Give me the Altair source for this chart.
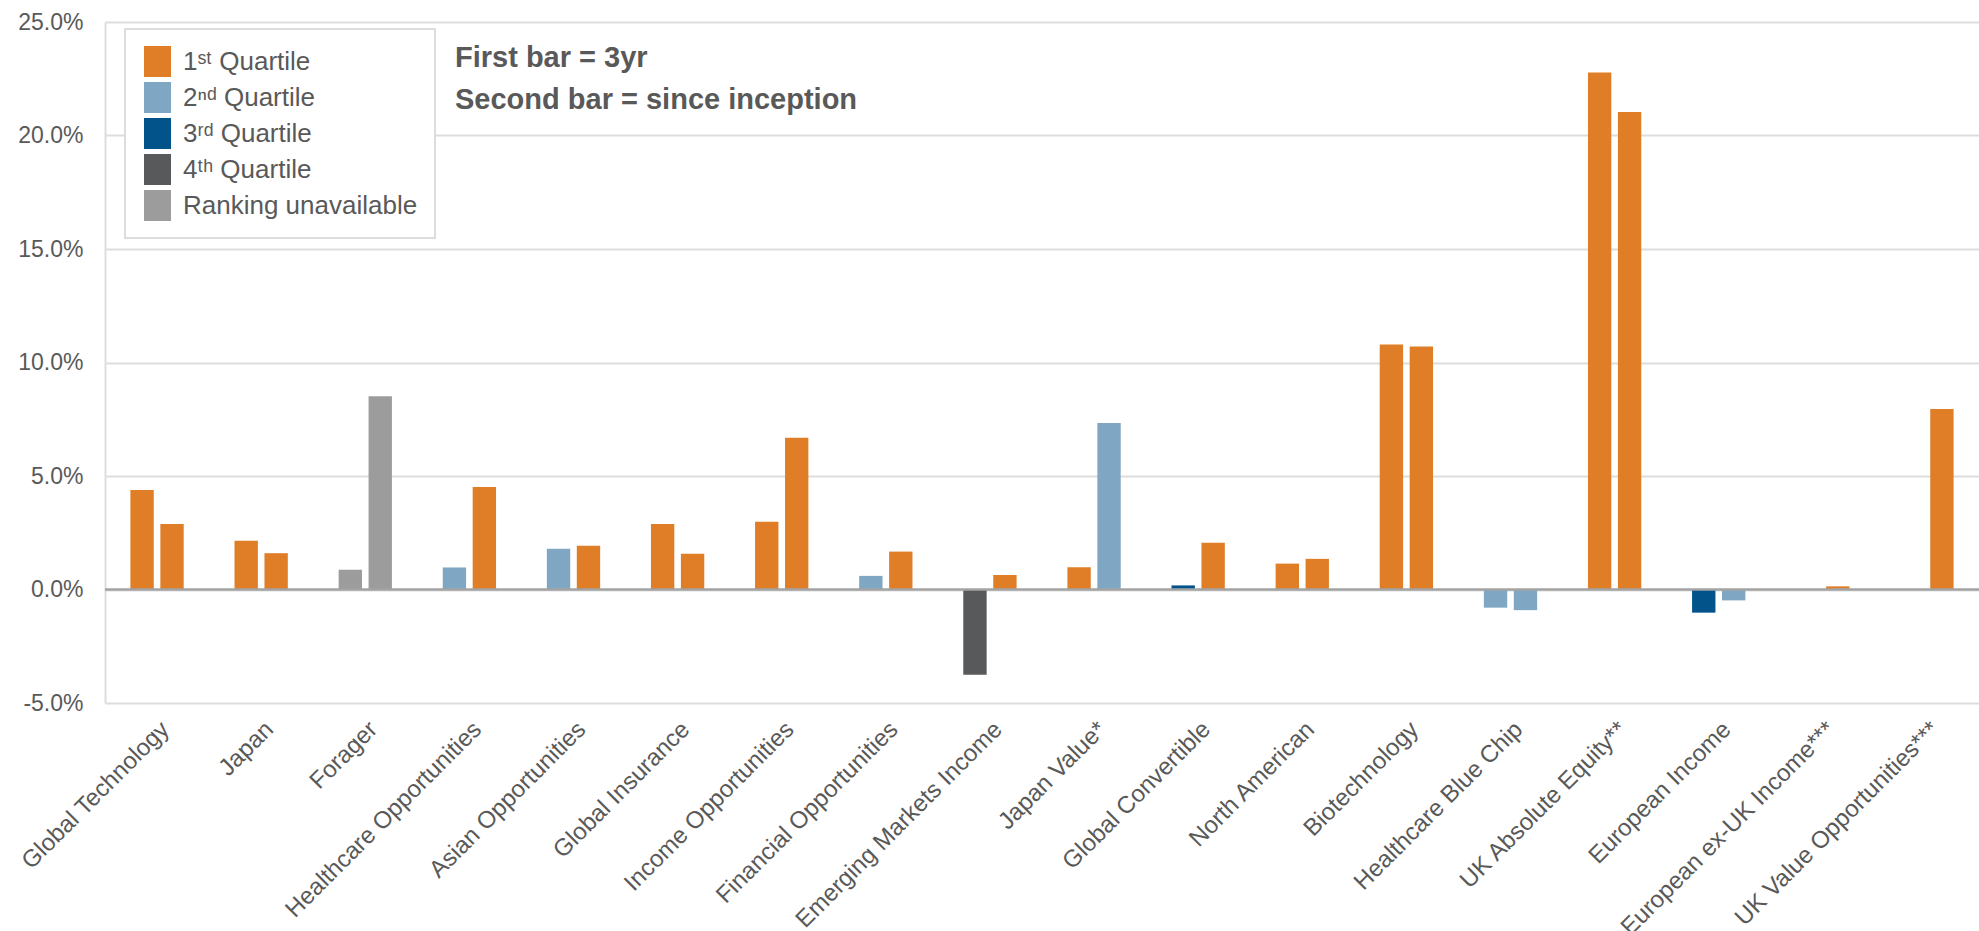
import altair as alt
import pandas as pd

funds = [
    "Global Technology", "Japan", "Forager", "Healthcare Opportunities",
    "Asian Opportunities", "Global Insurance", "Income Opportunities",
    "Financial Opportunities", "Emerging Markets Income", "Japan Value*",
    "Global Convertible", "North American", "Biotechnology",
    "Healthcare Blue Chip", "UK Absolute Equity**", "European Income",
    "European ex-UK Income***", "UK Value Opportunities***",
]
three_yr = [4.38, 2.15, 0.87, 0.97, 1.80, 2.89, 2.99, 0.60, -3.76, 0.98,
            0.18, 1.14, 10.79, -0.80, 22.78, -1.02, None, None]
since_inception = [2.89, 1.60, 8.51, 4.51, 1.93, 1.58, 6.68, 1.67, 0.64, 7.33,
                   2.06, 1.35, 10.70, -0.91, 21.04, -0.48, 0.14, 7.95]

Q1 = "1ˢᵗ Quartile"
Q2 = "2ⁿᵈ Quartile"
Q3 = "3ʳᵈ Quartile"
Q4 = "4ᵗʰ Quartile"
NA = "Ranking unavailable"
quartile_3yr = [Q1, Q1, NA, Q2, Q2, Q1, Q1, Q2, Q4, Q1, Q3, Q1, Q1, Q2, Q1, Q3, None, None]
quartile_si = [Q1, Q1, NA, Q1, Q1, Q1, Q1, Q1, Q1, Q2, Q1, Q1, Q1, Q2, Q1, Q2, Q1, Q1]

legend_order = [Q1, Q2, Q3, Q4, NA]
legend_colors = ["#E07E27", "#7FA7C3", "#01538A", "#58595B", "#9C9C9D"]
periods = ["3yr", "Since inception"]
y_ticks = [-5, 0, 5, 10, 15, 20, 25]
note_lines = ["First bar = 3yr", "Second bar = since inception"]

rows = []
for f, v, q in zip(funds, three_yr, quartile_3yr):
    if v is not None:
        rows.append({"fund": f, "period": periods[0], "value": v, "quartile": q})
for f, v, q in zip(funds, since_inception, quartile_si):
    if v is not None:
        rows.append({"fund": f, "period": periods[1], "value": v, "quartile": q})
df = pd.DataFrame(rows)

FONT = "Liberation Sans"
TXT = "#595959"

bars = alt.Chart(df).mark_bar().encode(
    x=alt.X("fund:N", sort=funds,
            scale=alt.Scale(paddingInner=0.488, paddingOuter=0.244),
            axis=alt.Axis(title=None, labelAngle=-45, labelFontSize=24,
                          labelColor=TXT, labelFont=FONT, labelPadding=14,
                          labelLimit=0, labelOverlap=False,
                          domain=False, ticks=False, grid=False,
                          labelAlign="right", labelBaseline="top")),
    xOffset=alt.XOffset("period:N", sort=periods,
                        scale=alt.Scale(paddingInner=0.22, paddingOuter=0)),
    y=alt.Y("value:Q", scale=alt.Scale(domain=[-5, 25], nice=False),
            axis=alt.Axis(title=None, values=y_ticks,
                          labelExpr="replace(format(datum.value, '.1f'), '\u2212', '-') + '%'",
                          labelFontSize=23, labelColor=TXT, labelFont=FONT,
                          labelPadding=22, ticks=False, grid=True,
                          gridColor="#DDDDDD", gridWidth=2,
                          domain=True, domainColor="#DDDDDD", domainWidth=2)),
    color=alt.Color("quartile:N",
                    scale=alt.Scale(domain=legend_order, range=legend_colors),
                    legend=alt.Legend(
                        title=None, orient="none", legendX=20, legendY=7,
                        fillColor="white", strokeColor="#DDDDDD",
                        padding=17, labelFontSize=26, labelColor=TXT,
                        labelFont=FONT, labelOffset=10, rowPadding=5,
                        labelLimit=0,
                        symbolType="M-0.87,-1H0.87V1H-0.87Z",
                        symbolSize=961, symbolStrokeWidth=0, symbolOpacity=1)),
)

zero = alt.Chart(pd.DataFrame({"z": [0]})).mark_rule(
    color="#A3A3A3", strokeWidth=2.5
).encode(y=alt.Y("z:Q"))

notes = alt.Chart(pd.DataFrame({"t": [note_lines]})).mark_text(
    align="left", baseline="alphabetic", font=FONT, fontSize=29,
    fontWeight="bold", color=TXT, lineHeight=42
).encode(text="t:N", x=alt.value(350), y=alt.value(45))

chart = alt.layer(bars, zero, notes).properties(
    width=1874, height=681,
    autosize=alt.AutoSizeParams(type="none"),
    padding={"left": 105, "top": 22, "right": 0, "bottom": 228},
    background="white",
).configure_view(stroke=None).configure_legend(strokeWidth=2)

chart.save("out.html", embed_options={"renderer": "svg", "actions": False})
